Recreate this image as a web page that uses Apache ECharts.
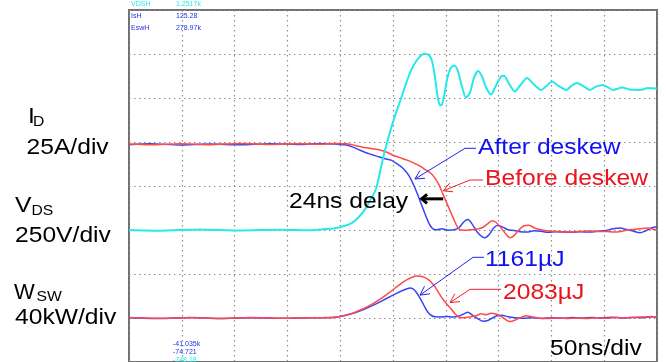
<!DOCTYPE html>
<html>
<head>
<meta charset="utf-8">
<script src="https://cdn.jsdelivr.net/npm/echarts@6/dist/echarts.min.js"></script>
<style>
  html, body { margin: 0; padding: 0; background: #fff; }
  #chart { width: 666px; height: 362px; }
</style>
</head>
<body>
<div id="chart"></div>
<script>
// Turn-off switching transient: drain current, drain-source voltage and
// switching power, before and after probe deskew. 50 ns/div, 10 divisions.

// time axis (ns)
const timeMin = 0;
const timeMax = 500;
const timeStep = 50;

// channel scales: value per division, 8 divisions tall
const idPerDiv = 25;     // A/div
const vdsPerDiv = 250;   // V/div
const pswPerDiv = 40;    // kW/div

// V_DS (V) versus time (ns)
const vdsTrace = [
  [0, 0], [29.4, -4], [67.2, 3], [105.1, -3], [143, 2], [171.4, -1], [185.6, 5],
  [195.1, 10], [204.5, 24], [211.2, 41], [216.9, 70], [222.5, 109], [228.2, 166],
  [233.9, 233], [237.7, 330], [241.5, 432], [245.3, 517], [249.1, 596], [252.8, 664],
  [257.6, 747], [262.3, 832], [267, 906], [271.8, 957], [276.5, 991], [280.3, 1002],
  [284.1, 993], [286.9, 962], [289.8, 866], [292.1, 764], [294.5, 708], [296.4, 714],
  [298.8, 776], [301.6, 866], [304.9, 923], [308.2, 934], [311.6, 900], [315.3, 815],
  [319.1, 753], [322.9, 781], [326.7, 866], [330.5, 903], [334.3, 872], [338.1, 810],
  [342.8, 770], [347.5, 821], [352.3, 872], [355.1, 877], [359.8, 832], [365.5, 787],
  [370.3, 821], [376.9, 863], [383.5, 827], [390.2, 796], [395.8, 821], [400.6, 844],
  [406.3, 821], [414.2, 796], [419.5, 822], [424.2, 835], [430.1, 818], [436.6, 796],
  [442.2, 815], [448.9, 824], [453.6, 810], [458.3, 796], [466.9, 810], [474.4, 798],
  [483.9, 796], [491.5, 807], [500, 804]
];

// I_D (A) after deskew
const idAfter = [
  [0, 48.4], [19.9, 49.0], [48.3, 48.3], [76.7, 48.8], [105.1, 48.4], [133.5, 49.0],
  [161.9, 48.6], [180.9, 49.2], [195.1, 48.8], [204.5, 48.4], [212.1, 47.1],
  [218.8, 45.3], [224.4, 43.9], [230.1, 42.8], [235.8, 41.7], [242.4, 40.5],
  [248.1, 39.7], [252.8, 38.0], [257.6, 36.0], [261.4, 33.8], [265.2, 30.7],
  [268, 27.5], [270.8, 23.9], [273.7, 19.6], [276.5, 15.1], [279.4, 10.6],
  [282.2, 6.4], [285, 2.7], [287.9, 0.7], [291.7, 0.1], [296.4, 0.7], [302.1, -0.1],
  [307.8, 0.1], [312.5, 1.3], [317.2, 4.7], [321, 6.0], [324.8, 3.5], [329.5, -1.0],
  [334.3, -3.8], [337.1, -4.4], [340.9, -2.7], [345.6, 1.3], [349.4, 2.7],
  [354.2, 1.6], [358.9, 0.1], [364.6, -0.3], [370.3, -1.0], [376.9, -1.2],
  [383.5, -0.4], [390.2, -0.7], [396.8, -1.3], [404.4, -1.0], [412, -1.2],
  [419.5, -1.3], [427.1, -1.0], [436.6, -1.2], [444.1, -0.7], [451.7, -0.3],
  [458.3, 0.7], [465, 1.1], [470.6, 0.4], [476.3, -0.4], [483.9, -1.6],
  [489.6, -0.4], [495.3, 1.3], [500, 1.8]
];

// I_D (A) before deskew
const idBefore = [
  [0, 48.8], [19.9, 48.4], [48.3, 49.0], [76.7, 48.5], [105.1, 49.1], [133.5, 48.6],
  [161.9, 49.0], [180.9, 48.7], [195.1, 49.2], [206.4, 49.0], [215, 47.9],
  [222.5, 46.9], [230.1, 46.2], [237.7, 45.5], [244.3, 44.2], [250, 42.5],
  [256.6, 41.1], [263.3, 39.7], [269.9, 38.0], [275.6, 36.3], [281.3, 34.0],
  [286, 32.1], [289.8, 29.5], [293.6, 25.6], [296.4, 21.6], [299.2, 17.7],
  [302.1, 13.7], [304.9, 9.7], [307.8, 5.8], [310.6, 2.1], [313.4, 0.1],
  [318.2, -0.1], [322.9, 0.1], [328.6, 0.4], [334.3, 1.3], [339, 3.2], [343.8, 5.2],
  [347.5, 4.4], [352.3, 1.3], [357, -2.4], [360.8, -4.4], [364.6, -3.2],
  [369.3, 0.1], [374.1, 2.4], [378.8, 2.7], [384.5, 1.0], [390.2, 0.1],
  [396.8, -0.6], [404.4, -0.8], [412, -1.0], [420.5, -1.2], [429, -0.7],
  [436.6, -0.6], [444.1, -0.8], [451.7, -0.8], [459.3, -1.2], [466.9, -0.7],
  [472.6, 0.1], [478.3, 0.3], [485.8, 0.9], [491.5, 1.1], [496.2, 0.4], [500, 0.1]
];

// switching power (kW) after deskew, E = 1161 uJ
const pswAfter = [
  [0, 0.2], [29.4, -0.5], [57.8, 0.5], [86.2, -0.4], [114.6, 0.3], [143, -0.3],
  [171.4, 0.2], [190.3, 0.4], [199.8, 1.3], [206.4, 2.7], [213.1, 4.5],
  [219.7, 6.8], [226.3, 9.4], [233, 12.4], [239.6, 15.6], [246.2, 18.9],
  [252.8, 22.2], [258.5, 24.8], [263.3, 26.6], [266.1, 27.3], [268.9, 26.4],
  [271.8, 23.7], [274.6, 19.7], [277.5, 14.7], [280.3, 9.7], [283.1, 5.2],
  [286, 2.5], [289.8, 1.1], [295.5, 1.0], [301.1, 1.3], [306.8, 0.9], [311.6, 1.6],
  [316.3, 3.4], [321, 5.2], [324.8, 2.9], [329.5, -0.2], [335.2, -2.9],
  [339, -2.5], [343.8, -0.2], [348.5, 2.0], [353.2, 2.5], [358.9, 1.1],
  [365.5, 0.2], [373.1, -0.2], [381.6, 0.2], [391.1, -0.4], [400.6, 0.2],
  [410, -0.2], [419.5, 0.4], [429, 0], [438.4, 0.4], [447.9, 0.2], [457.4, 0.7],
  [466.9, 0.1], [476.3, 0.5], [485.8, 0.2], [493.4, 0.9], [500, 1.1]
];

// switching power (kW) before deskew, E = 2083 uJ
const pswBefore = [
  [0, 0.5], [29.4, -0.2], [57.8, 0.3], [86.2, -0.5], [114.6, 0.5], [143, -0.2],
  [171.4, 0.3], [190.3, 0.2], [199.8, 1.3], [206.4, 2.9], [213.1, 4.9],
  [219.7, 7.5], [226.3, 10.6], [233, 14.2], [239.6, 18.3], [246.2, 22.8],
  [252.8, 27.8], [258.5, 31.9], [263.3, 34.8], [268, 37.0], [272.7, 38.2],
  [277.5, 37.7], [282.2, 35.7], [286, 32.8], [289.8, 28.3], [293.6, 22.4],
  [297.3, 17.0], [301.1, 12.4], [304.9, 8.4], [308.7, 3.8], [312.5, 0.7],
  [317.2, 0.2], [322.9, 0.9], [328.6, 2.0], [333.3, 3.8], [338.1, 2.9],
  [342.8, 4.3], [347.5, 3.6], [352.3, 1.6], [357, -1.6], [360.8, -3.2],
  [365.5, -2.0], [370.3, 0.2], [375.9, 2.0], [381.6, 1.1], [389.2, -0.2],
  [396.8, -0.5], [404.4, 0.2], [413.8, -0.4], [423.3, 0.1], [432.8, -0.5],
  [441.9, 0.2], [451.3, -0.2], [460.8, 0.4], [470.3, 0], [479.8, 0.7],
  [489.2, 0.9], [494.9, 1.3], [500, 0.9]
];

// scope readouts
const readoutNames = ['VDSH', 'IsH', 'EswH'];
const readoutValues = ['1.2517k', '125.28', '278.97k'];
const cursorValues = ['-41.035k', '-74.721', '-748.18'];

const FONT = '"Liberation Sans", Arial, sans-serif';
const C_VDS = '#27e8e8';
const C_AFTER = '#3a44f2';
const C_BEFORE = '#ff4a4a';
const T_BLUE = '#1010f0';
const T_RED = '#e8141e';

const chart = echarts.init(document.getElementById('chart'), null, { renderer: 'canvas' });

const grid = { left: 129, top: 10, width: 528, height: 354, show: true,
  borderColor: '#707070', borderWidth: 2, backgroundColor: 'transparent' };

const dotted = { color: '#8c8c8c', width: 1.2, type: [1.5, 3.5] };

function hiddenY(min, max, split) {
  return {
    type: 'value', min: min, max: max, interval: (max - min) / 8,
    axisLine: { show: false }, axisTick: { show: false }, axisLabel: { show: false },
    splitLine: { show: split, lineStyle: dotted }
  };
}

function trace(name, data, yIdx, color, width) {
  return {
    type: 'line', name: name, data: data, yAxisIndex: yIdx,
    showSymbol: false, smooth: 0.25, animation: false, silent: true,
    lineStyle: { color: color, width: width }, z: 3
  };
}

chart.setOption({
  animation: false,
  grid: grid,
  xAxis: {
    type: 'value', min: timeMin, max: timeMax, interval: timeStep,
    axisLine: { show: false }, axisTick: { show: false }, axisLabel: { show: false },
    splitLine: { show: true, lineStyle: dotted }
  },
  yAxis: [
    hiddenY(-3 * idPerDiv, 5 * idPerDiv, true),
    hiddenY(-3 * vdsPerDiv, 5 * vdsPerDiv, false),
    hiddenY(-1 * pswPerDiv, 7 * pswPerDiv, false)
  ],
  series: [
    trace('I_D after deskew', idAfter, 0, C_AFTER, 1.5),
    trace('I_D before deskew', idBefore, 0, C_BEFORE, 1.5),
    trace('P_SW after deskew', pswAfter, 2, C_AFTER, 1.5),
    trace('P_SW before deskew', pswBefore, 2, C_BEFORE, 1.5),
    trace('V_DS', vdsTrace, 1, C_VDS, 2)
  ]
});

function px(yIdx, t, v) {
  return chart.convertToPixel({ xAxisIndex: 0, yAxisIndex: yIdx }, [t, v]);
}

function label(text, x, y, size, color, sx) {
  return {
    type: 'text', x: x, y: y, scaleX: sx || 1.12, z: 10, silent: true,
    style: { text: text, font: size + 'px ' + FONT, fill: color, verticalAlign: 'middle', align: 'left' }
  };
}

// callout: short horizontal stroke from the text, then a diagonal to the trace
function callout(start, elbow, tip, color, width, headLen, headAng) {
  const dx = tip[0] - elbow[0], dy = tip[1] - elbow[1];
  const L = Math.hypot(dx, dy);
  const ux = dx / L, uy = dy / L;
  const a = headAng * Math.PI / 180;
  const rot = (s) => [
    tip[0] - headLen * (ux * Math.cos(s * a) - uy * Math.sin(s * a)),
    tip[1] - headLen * (ux * Math.sin(s * a) + uy * Math.cos(s * a))
  ];
  const pts = start ? [start, elbow, tip] : [elbow, tip];
  return [
    { type: 'polyline', z: 9, silent: true, shape: { points: pts },
      style: { stroke: color, lineWidth: width, fill: null } },
    { type: 'polyline', z: 9, silent: true, shape: { points: [rot(1), tip, rot(-1)] },
      style: { stroke: color, lineWidth: width, fill: null, lineJoin: 'miter' } }
  ];
}

const tipAfter = px(0, 270.8, 29.0);
const tipBefore = px(0, 297.6, 22.3);
const tipEAfter = px(2, 275.6, 20.8);
const tipEBefore = px(2, 304.0, 14.0);
const delayHead = px(0, 277.2, 17.7);
const delayTail = px(0, 297.6, 17.7);

const g = [];
g.push(...callout([476, 148.3], [465, 148.3], tipAfter, '#2020f0', 1, 10, 28));
g.push(...callout([483, 180], [470, 180], tipBefore, '#e82028', 1, 10, 28));
g.push(...callout([484, 257.3], [473, 257.3], tipEAfter, '#2020f0', 1, 10, 28));
g.push(...callout([501, 289.3], [470, 289.3], tipEBefore, '#e82028', 1, 10, 28));
g.push(...callout(null, delayTail, delayHead, '#000', 3, 7, 40));

g.push(label('After deskew', 478, 148, 22, T_BLUE));
g.push(label('Before deskew', 485, 179, 22, T_RED));
g.push(label('24ns delay', 289, 202, 22, '#000'));
g.push(label('1161\u00b5J', 485, 259.5, 22, T_BLUE));
g.push(label('2083\u00b5J', 503, 292.5, 22, T_RED));
g.push(label('50ns/div', 550, 349, 22, '#000'));

// channel scale labels
g.push(label('I', 28, 117, 22, '#000'));
g.push(label('D', 33, 122.5, 14, '#000'));
g.push(label('25A/div', 26.5, 148, 22, '#000'));
g.push(label('V', 15, 205.5, 22, '#000'));
g.push(label('DS', 31.5, 211.5, 14, '#000'));
g.push(label('250V/div', 15, 235.5, 22, '#000'));
g.push(label('W', 14, 292.5, 22, '#000', 1.0));
g.push(label('SW', 36.5, 297.5, 14, '#000'));
g.push(label('40kW/div', 15, 318, 22, '#000'));

// measurement readouts
const rColors = [C_VDS, '#2430f0', '#2430f0'];
const rY = [4, 16, 28];
readoutNames.forEach((n, i) => {
  g.push(label(n, 131, rY[i], 7, rColors[i], 1));
  g.push(label(readoutValues[i], 176, rY[i], 7, rColors[i], 1));
});
const cColors = ['#2430f0', '#2430f0', C_VDS];
const cY = [344, 352, 360];
cursorValues.forEach((v, i) => g.push(label(v, 173, cY[i], 7, cColors[i], 1)));

chart.setOption({ graphic: g });
</script>
</body>
</html>
